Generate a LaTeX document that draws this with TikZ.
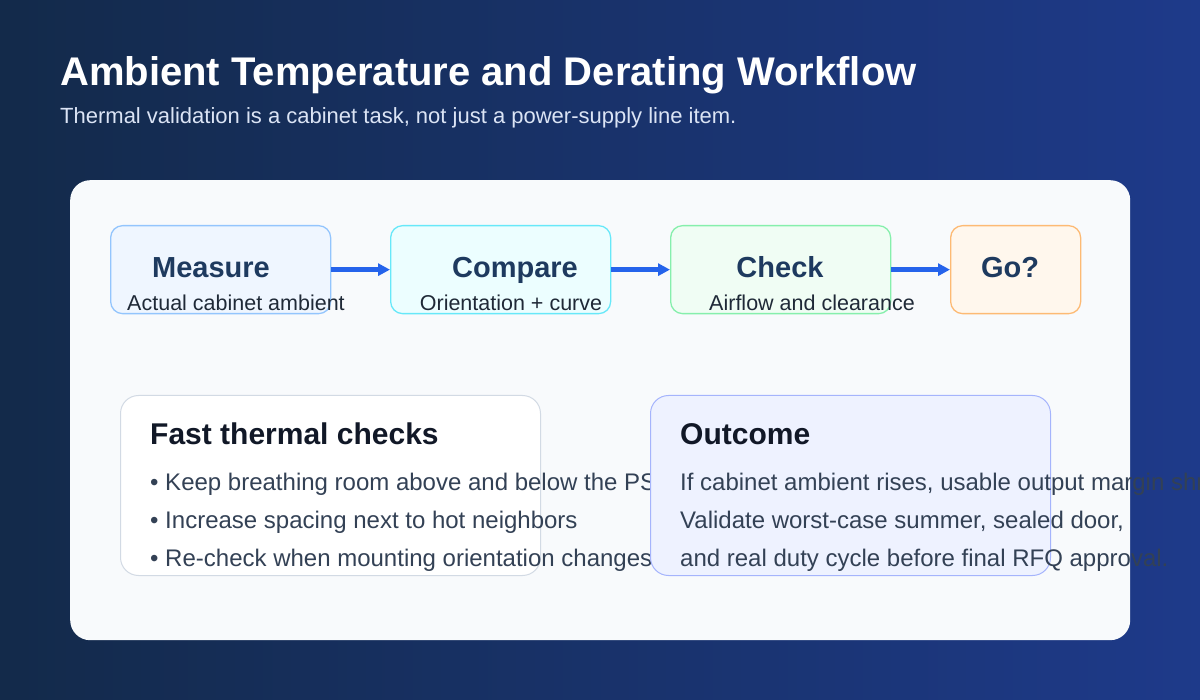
\documentclass[tikz,border=0pt]{standalone}
\usepackage{fontspec}
\setmainfont{Liberation Sans}
\usetikzlibrary{arrows.meta}
\definecolor{bgl}{HTML}{132A4A}
\definecolor{bgr}{HTML}{1E3A8A}
\definecolor{navy}{HTML}{1E3A5F}
\definecolor{arr}{HTML}{2563EB}
\definecolor{f1}{HTML}{EFF6FF}\definecolor{d1}{HTML}{93C5FD}
\definecolor{f2}{HTML}{ECFEFF}\definecolor{d2}{HTML}{67E8F9}
\definecolor{f3}{HTML}{F0FDF4}\definecolor{d3}{HTML}{86EFAC}
\definecolor{f4}{HTML}{FFF7ED}\definecolor{d4}{HTML}{FDBA74}
\definecolor{cardc}{HTML}{F8FAFC}
\definecolor{p1d}{HTML}{D2DAE4}
\definecolor{p2f}{HTML}{EEF2FF}\definecolor{p2d}{HTML}{A5B4FC}
\definecolor{headc}{HTML}{111827}
\definecolor{linec}{HTML}{334155}
\definecolor{subc}{HTML}{1F2937}
\definecolor{subt}{HTML}{DBE4F5}
\begin{document}
\begin{tikzpicture}[x=1pt,y=-1pt,
  stepbox/.style={draw,line width=1.3pt,rounded corners=12pt,minimum width=220pt,minimum height=88pt,anchor=north west,inner sep=0},
  steptitle/.style={font=\fontsize{29}{34}\selectfont\bfseries,text=navy,anchor=base,inner sep=0},
  stepsub/.style={font=\fontsize{21.5}{25}\selectfont,text=subc,anchor=base,inner sep=0},
  flow/.style={-{Triangle[length=12pt,width=12pt]},line width=4.5pt,draw=arr},
  panel/.style={draw,line width=1pt,rounded corners=18pt,minimum height=180pt,anchor=north west,inner sep=0},
  phead/.style={font=\fontsize{30}{35}\selectfont\bfseries,text=headc,anchor=base west,inner sep=0},
  pline/.style={font=\fontsize{24}{28}\selectfont,text=linec,anchor=base west,inner sep=0}]
\useasboundingbox (0,0) rectangle (1200,700);
\shade[left color=bgl,right color=bgr] (0,0) rectangle (1200,700);
\node[font=\fontsize{40}{46}\selectfont\bfseries,text=white,anchor=base west,inner sep=0] (title) at (60,86) {Ambient Temperature and Derating Workflow};
\node[font=\fontsize{22}{26}\selectfont,text=subt,anchor=base west,inner sep=0] (sub) at (60,124) {Thermal validation is a cabinet task, not just a power-supply line item.};
\node[fill=cardc,rounded corners=20pt,minimum width=1060pt,minimum height=460pt,anchor=north west,inner sep=0] (card) at (70,180) {};
\node[stepbox,fill=f1,draw=d1] (s1) at (110,225) {};
\node[stepbox,fill=f2,draw=d2] (s2) at (390,225) {};
\node[stepbox,fill=f3,draw=d3] (s3) at (670,225) {};
\node[stepbox,minimum width=130pt,fill=f4,draw=d4] (s4) at (950,225) {};
\node[steptitle] (t1) at (211,278) {Measure};
\node[steptitle] (t2) at (515,278) {Compare};
\node[steptitle] (t3) at (780,278) {Check};
\node[steptitle] (t4) at (1010,278) {Go?};
\node[stepsub] (u1) at (236,311) {Actual cabinet ambient};
\node[stepsub] (u2) at (511,311) {Orientation + curve};
\node[stepsub] (u3) at (812,311) {Airflow and clearance};
\draw[flow] (s1.east) -- (s2.west);
\draw[flow] (s2.east) -- (s3.west);
\draw[flow] (s3.east) -- (s4.west);
\node[panel,minimum width=420pt,fill=white,draw=p1d] (p1) at (120,395) {};
\node[phead] (h1) at (150,445) {Fast thermal checks};
\node[pline] (a1) at (150,490) {• Keep breathing room above and below the PSU.};
\node[pline] (a2) at (150,528) {• Increase spacing next to hot neighbors};
\node[pline] (a3) at (150,566) {• Re-check when mounting orientation changes};
\node[panel,minimum width=400pt,fill=p2f,draw=p2d] (p2) at (650,395) {};
\node[phead] (h2) at (680,445) {Outcome};
\node[pline] (b1) at (680,490) {If cabinet ambient rises, usable output margin shrinks.};
\node[pline] (b2) at (680,528) {Validate worst-case summer, sealed door,};
\node[pline] (b3) at (680,566) {and real duty cycle before final RFQ approval.};
\end{tikzpicture}
\end{document}
